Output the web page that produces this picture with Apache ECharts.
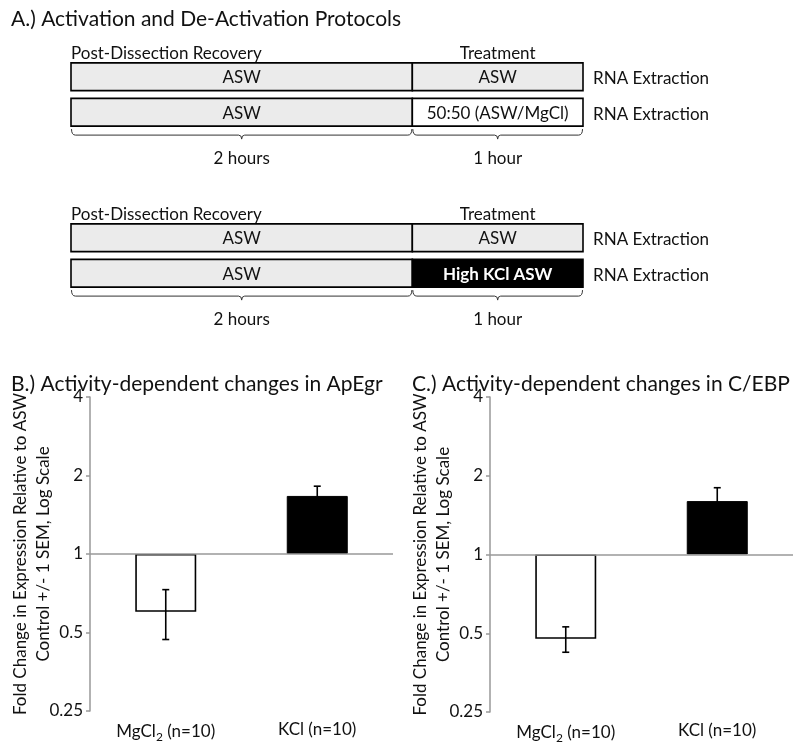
<!DOCTYPE html>
<html><head><meta charset="utf-8">
<script src="https://cdn.jsdelivr.net/npm/echarts@6/dist/echarts.min.js"></script>
<style>html,body{margin:0;padding:0;background:#fff}#c{width:800px;height:747px}</style>
</head><body><div id="c"></div>
<script>
const FONT = 'Lato';
// ---- Panel A: protocol timelines (hours) ----
const protoRows = ['Control', 'Treated'];
// [row, startHour, endHour]
const protoSpans1 = [[0, 0, 2], [0, 2, 3], [1, 0, 2], [1, 2, 3]];
const protoLabels1 = ['ASW', 'ASW', 'ASW', '50:50 (ASW/MgCl)'];
const protoKinds1 = ['asw', 'asw', 'asw', 'mg'];
const protoSpans2 = [[0, 0, 2], [0, 2, 3], [1, 0, 2], [1, 2, 3]];
const protoLabels2 = ['ASW', 'ASW', 'ASW', 'High KCl ASW'];
const protoKinds2 = ['asw', 'asw', 'asw', 'kcl'];
const phaseSpans = [[0, 2, 0], [2, 3, 0]];
const phaseNames = ['Post-Dissection Recovery', 'Treatment'];
const phaseDurations = ['2 hours', '1 hour'];
const endPoints = [[3, 0], [3, 1]];
const endLabel = 'RNA Extraction';

// ---- Panels B, C: fold change (log2 scale) ----
const categories = ['MgCl2 (n=10)', 'KCl (n=10)'];
const egrMean = [0.60, 1.67];
const egrSem = [0.13, 0.15];
const cebpMean = [0.476, 1.60];
const cebpSem = [0.053, 0.20];

const boxStyle = {
  asw: { fill: '#ebebeb', text: '#111', weight: 'normal' },
  mg: { fill: '#ffffff', text: '#111', weight: 'normal' },
  kcl: { fill: '#000000', text: '#ffffff', weight: 'bold' }
};

function protoRender(labels, kinds) {
  return function (params, api) {
    const row = api.value(0), s = api.value(1), e = api.value(2);
    const p0 = api.coord([s, row]);
    const p1 = api.coord([e, row]);
    const h = api.size([0, 1])[1] * 0.78;
    const st = boxStyle[kinds[params.dataIndex]];
    return {
      type: 'group',
      children: [{
        type: 'rect',
        shape: { x: p0[0], y: p0[1] - h / 2, width: p1[0] - p0[0], height: h },
        style: { fill: st.fill, stroke: '#000', lineWidth: 1.6 }
      }, {
        type: 'text',
        style: {
          x: (p0[0] + p1[0]) / 2, y: p0[1] + 1, text: labels[params.dataIndex],
          align: 'center', verticalAlign: 'middle', fill: st.text,
          fontFamily: FONT, fontSize: 17, fontWeight: st.weight
        }
      }]
    };
  };
}

function phaseRender(params, api) {
  const s = api.value(0), e = api.value(1);
  const top = api.coord([s, 0]);
  const bot = api.coord([s, 1]);
  const end = api.coord([e, 1]);
  const h = api.size([0, 1])[1] * 0.78;
  const boxTop = top[1] - h / 2;
  const yb = bot[1] + h / 2 + 9;
  const x0 = bot[0] + 0.5, x1 = end[0] - 0.5, xm = (x0 + x1) / 2;
  const i = params.dataIndex;
  const path = 'M' + x0 + ' ' + (yb - 6) + ' Q' + x0 + ' ' + yb + ' ' + (x0 + 4) + ' ' + yb +
    ' L' + (xm - 3) + ' ' + yb + ' Q' + xm + ' ' + yb + ' ' + xm + ' ' + (yb + 4) +
    ' Q' + xm + ' ' + yb + ' ' + (xm + 3) + ' ' + yb +
    ' L' + (x1 - 4) + ' ' + yb + ' Q' + x1 + ' ' + yb + ' ' + x1 + ' ' + (yb - 6);
  return {
    type: 'group',
    children: [{
      type: 'text',
      style: {
        x: i === 0 ? bot[0] : xm, y: boxTop - 9, text: phaseNames[i],
        align: i === 0 ? 'left' : 'center', verticalAlign: 'middle',
        fill: '#111', fontFamily: FONT, fontSize: 17
      }
    }, {
      type: 'path',
      shape: { pathData: path },
      style: { fill: null, stroke: '#333', lineWidth: 1 }
    }, {
      type: 'text',
      style: {
        x: xm, y: yb + 23, text: phaseDurations[i], align: 'center', verticalAlign: 'middle',
        fill: '#111', fontFamily: FONT, fontSize: 17
      }
    }]
  };
}

function endRender(params, api) {
  const p = api.coord([api.value(0), api.value(1)]);
  return {
    type: 'text',
    style: {
      x: p[0] + 10, y: p[1] + 2, text: endLabel, align: 'left', verticalAlign: 'middle',
      fill: '#111', fontFamily: FONT, fontSize: 17
    }
  };
}

function errRender(params, api) {
  const c = api.value(0), m = api.value(1), s = api.value(2);
  const hi = api.coord([c, m + s]);
  const lo = api.coord([c, m - s]);
  const w = 3.5;
  return {
    type: 'group',
    children: [
      { type: 'line', shape: { x1: hi[0], y1: hi[1], x2: lo[0], y2: lo[1] }, style: { stroke: '#000', lineWidth: 1.6 } },
      { type: 'line', shape: { x1: hi[0] - w, y1: hi[1], x2: hi[0] + w, y2: hi[1] }, style: { stroke: '#000', lineWidth: 1.6 } },
      { type: 'line', shape: { x1: lo[0] - w, y1: lo[1], x2: lo[0] + w, y2: lo[1] }, style: { stroke: '#000', lineWidth: 1.6 } }
    ]
  };
}

const protoGridCommon = { left: 71, width: 512, height: 71 };
const hiddenTime = { type: 'value', min: 0, max: 3, show: false };
const hiddenRows = { type: 'category', data: protoRows, inverse: true, show: false };

function catLabel(v) {
  if (v.indexOf('MgCl2') === 0) return '{t|MgCl}{s|2}{t|' + v.slice(5) + '}';
  return '{t|' + v + '}';
}
const xCat = (gi) => ({
  type: 'category', gridIndex: gi, data: categories,
  axisLine: { show: false }, axisTick: { show: false },
  axisLabel: {
    margin: 10, interval: 0, hideOverlap: false, formatter: catLabel,
    rich: {
      t: { fontFamily: FONT, fontSize: 17, color: '#111' },
      s: { fontFamily: FONT, fontSize: 12, color: '#111', padding: [10, 0, 0, 0] }
    }
  }
});
const yLog = (gi) => ({
  type: 'log', logBase: 2, min: 0.25, max: 4, gridIndex: gi,
  name: 'Fold Change in Expression Relative to ASW\nControl +/- 1 SEM, Log Scale',
  nameLocation: 'middle', nameGap: 35, nameRotate: 90, nameMoveOverlap: false,
  nameTextStyle: { fontFamily: FONT, fontSize: 17, color: '#111', lineHeight: 23 },
  axisLine: { show: true, lineStyle: { color: '#999', width: 1.5 } },
  axisTick: { show: true, length: 4, lineStyle: { color: '#999', width: 1.5 } },
  splitLine: { show: false },
  axisLabel: {
    fontFamily: FONT, fontSize: 17, color: '#111', margin: 7,
    formatter: v => String(Math.round(v * 100) / 100)
  }
});
const baseLine = {
  silent: true, symbol: 'none', label: { show: false },
  lineStyle: { color: '#999', width: 1.5, type: 'solid' }, data: [{ yAxis: 1 }]
};
const barData = (means) => means.map((v, i) => ({
  value: v,
  itemStyle: i === 0 ? { color: '#fff', borderColor: '#000', borderWidth: 1.6 } : { color: '#000', borderColor: '#000', borderWidth: 1 }
}));

const chart = echarts.init(document.getElementById('c'));
chart.setOption({
  animation: false,
  backgroundColor: '#fff',
  title: [
    { text: 'A.) Activation and De-Activation Protocols', left: 6, top: 4, textStyle: { fontFamily: FONT, fontSize: 21, fontWeight: 'normal', color: '#111' } },
    { text: 'B.) Activity-dependent changes in ApEgr', left: 6, top: 369, textStyle: { fontFamily: FONT, fontSize: 21, fontWeight: 'normal', color: '#111' } },
    { text: 'C.) Activity-dependent changes in C/EBP', left: 407, top: 369, textStyle: { fontFamily: FONT, fontSize: 21, fontWeight: 'normal', color: '#111' } }
  ],
  grid: [
    Object.assign({ top: 59 }, protoGridCommon),
    Object.assign({ top: 220 }, protoGridCommon),
    { left: 90, top: 397, width: 303, height: 314 },
    { left: 490, top: 397, width: 303, height: 315 }
  ],
  xAxis: [
    Object.assign({ gridIndex: 0 }, hiddenTime),
    Object.assign({ gridIndex: 1 }, hiddenTime),
    xCat(2), xCat(3)
  ],
  yAxis: [
    Object.assign({ gridIndex: 0 }, hiddenRows),
    Object.assign({ gridIndex: 1 }, hiddenRows),
    yLog(2), yLog(3)
  ],
  series: [
    { type: 'custom', xAxisIndex: 0, yAxisIndex: 0, data: protoSpans1, encode: { x: [1, 2], y: 0 }, renderItem: protoRender(protoLabels1, protoKinds1) },
    { type: 'custom', xAxisIndex: 1, yAxisIndex: 1, data: protoSpans2, encode: { x: [1, 2], y: 0 }, renderItem: protoRender(protoLabels2, protoKinds2) },
    { type: 'custom', xAxisIndex: 0, yAxisIndex: 0, data: phaseSpans, encode: { x: [0, 1], y: 2 }, renderItem: phaseRender },
    { type: 'custom', xAxisIndex: 1, yAxisIndex: 1, data: phaseSpans, encode: { x: [0, 1], y: 2 }, renderItem: phaseRender },
    { type: 'custom', xAxisIndex: 0, yAxisIndex: 0, data: endPoints, encode: { x: 0, y: 1 }, renderItem: endRender },
    { type: 'custom', xAxisIndex: 1, yAxisIndex: 1, data: endPoints, encode: { x: 0, y: 1 }, renderItem: endRender },
    { type: 'bar', xAxisIndex: 2, yAxisIndex: 2, barWidth: 61, data: barData(egrMean), markLine: baseLine },
    { type: 'bar', xAxisIndex: 3, yAxisIndex: 3, barWidth: 61, data: barData(cebpMean), markLine: baseLine },
    { type: 'custom', xAxisIndex: 2, yAxisIndex: 2, z: 5, data: egrMean.map((m, i) => [i, m, egrSem[i]]), encode: { x: 0, y: 1 }, renderItem: errRender },
    { type: 'custom', xAxisIndex: 3, yAxisIndex: 3, z: 5, data: cebpMean.map((m, i) => [i, m, cebpSem[i]]), encode: { x: 0, y: 1 }, renderItem: errRender }
  ]
});
</script>
</body></html>
